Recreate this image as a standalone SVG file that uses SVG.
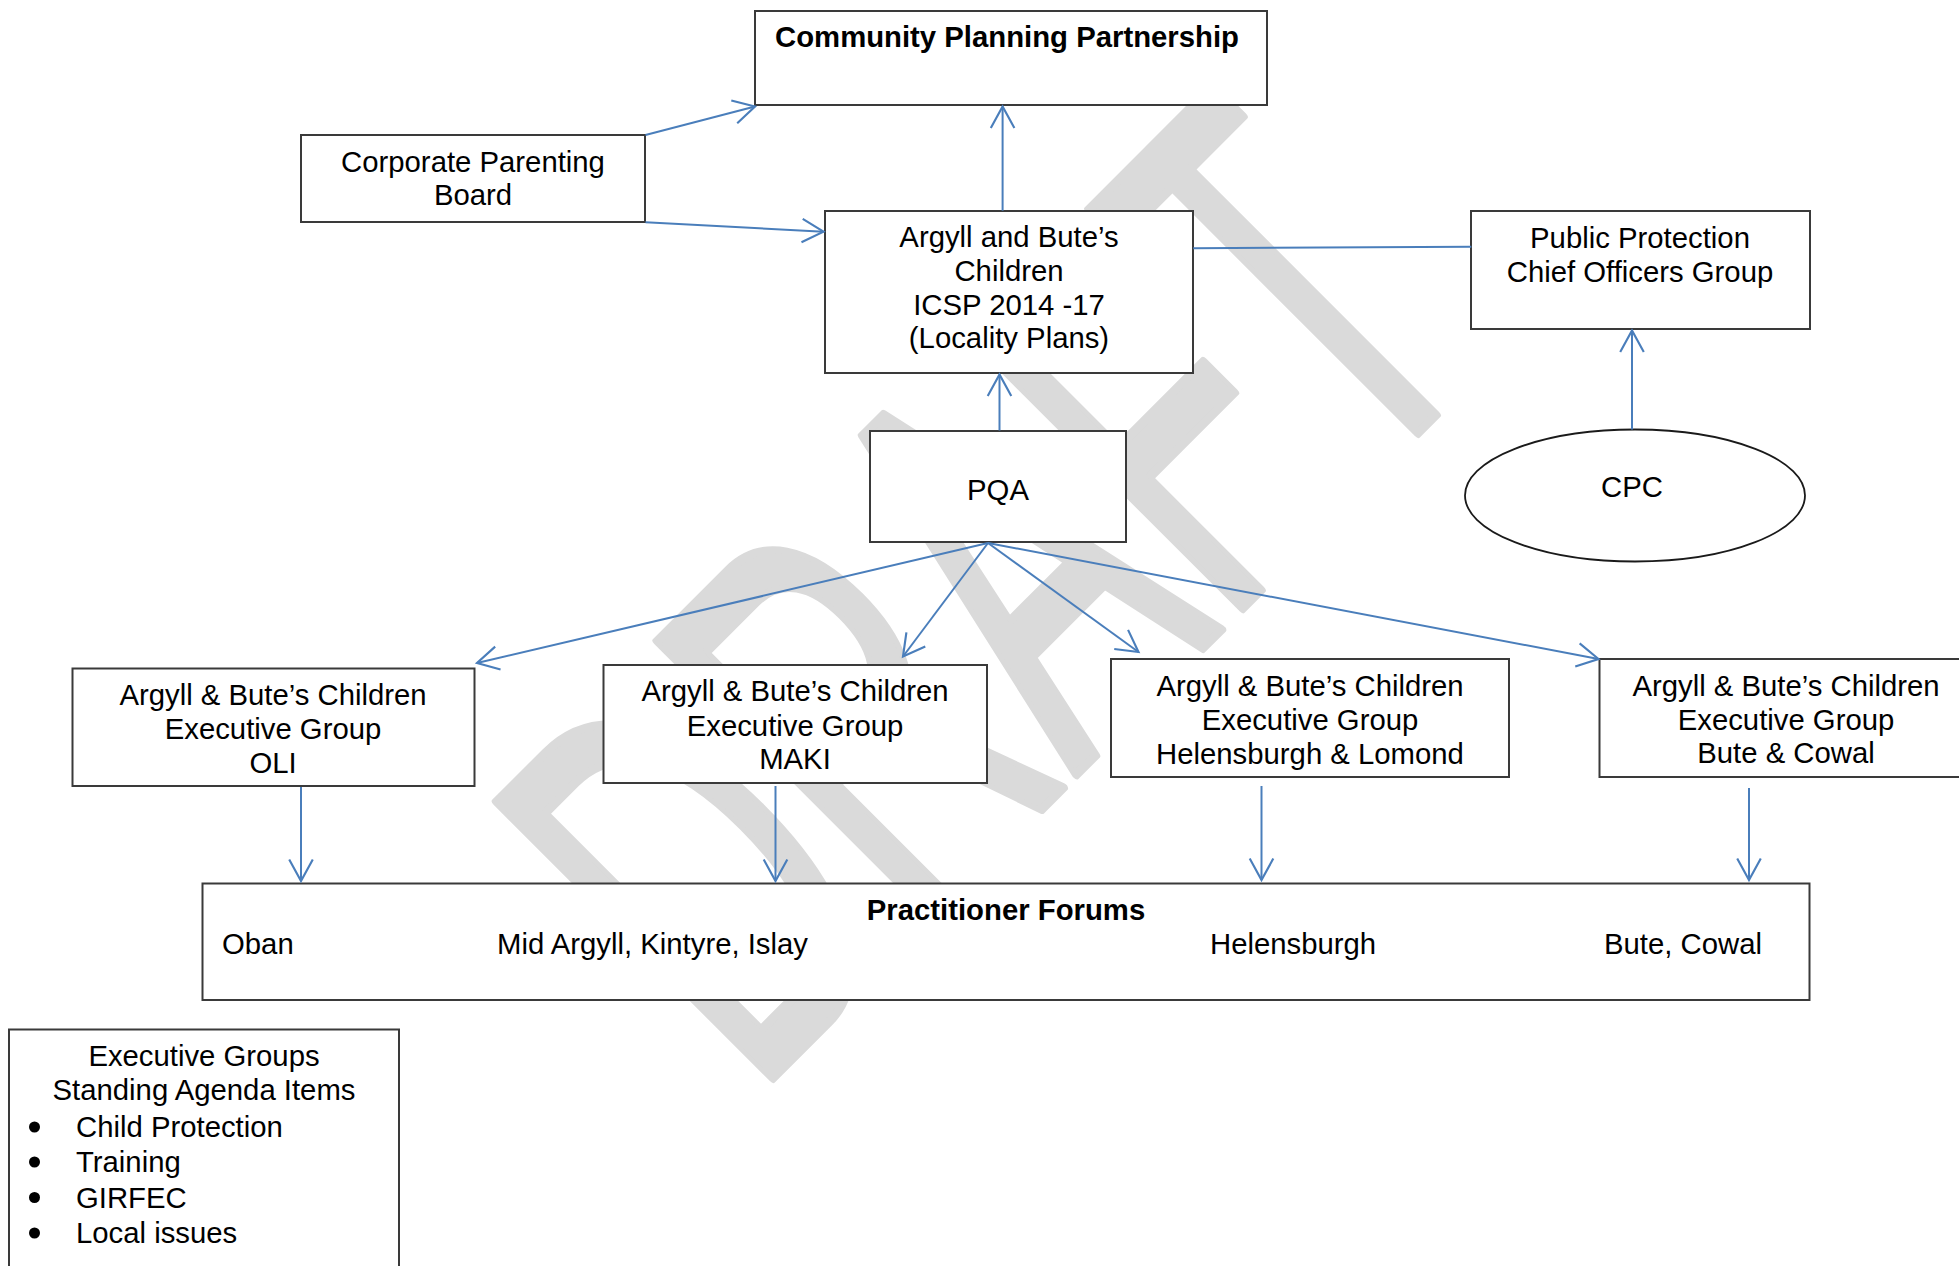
<svg xmlns="http://www.w3.org/2000/svg" width="1959" height="1266" viewBox="0 0 1959 1266">
<style>
.box{fill:#ffffff;stroke:#3a3a3a;stroke-width:2}
.ell{fill:#ffffff;stroke:#1a1a1a;stroke-width:1.8}
.t{font-family:"Liberation Sans",Arial,sans-serif;font-size:29.3px;fill:#000000}
.c{text-anchor:middle}
.b{font-weight:bold}
.conn line{stroke:#4a7ebb;stroke-width:2;fill:none}
.arr line{marker-end:url(#ah)}
.wm{font-family:"Liberation Sans",Arial,sans-serif;font-size:568px;fill:#dadada;stroke:#dadada;stroke-width:9;stroke-linejoin:round}
</style>
<defs>
<marker id="ah" markerUnits="userSpaceOnUse" markerWidth="30" markerHeight="30" viewBox="-24 -14 28 28" refX="0" refY="0" orient="auto">
<path d="M -20 -11 L 0 0 L -20 11" fill="none" stroke="#4a7ebb" stroke-width="2"/>
</marker>
</defs>
<rect width="1959" height="1266" fill="#ffffff"/>
<g id="watermark">
<text class="wm" transform="translate(753.4,1097.6) rotate(-45) scale(0.554,1)" x="0" y="0">DRAFT</text>
</g>
<g id="cpp">
<rect class="box" x="755" y="11" width="512" height="94"/>
<text class="t b c" x="1007" y="47">Community Planning Partnership</text>
</g>
<g id="corporate">
<rect class="box" x="301" y="135" width="344" height="87"/>
<text class="t c" x="473" y="172">Corporate Parenting</text>
<text class="t c" x="473" y="205">Board</text>
</g>
<g id="icsp">
<rect class="box" x="825" y="211" width="368" height="162"/>
<text class="t c" x="1009" y="247">Argyll and Bute’s</text>
<text class="t c" x="1009" y="281">Children</text>
<text class="t c" x="1009" y="315">ICSP 2014 -17</text>
<text class="t c" x="1009" y="348">(Locality Plans)</text>
</g>
<g id="ppcog">
<rect class="box" x="1471" y="211" width="339" height="118"/>
<text class="t c" x="1640" y="248">Public Protection</text>
<text class="t c" x="1640" y="282">Chief Officers Group</text>
</g>
<g id="cpc">
<ellipse class="ell" cx="1635" cy="495.5" rx="170" ry="66"/>
<text class="t c" x="1632" y="497">CPC</text>
</g>
<g id="pqa">
<rect class="box" x="870" y="431" width="256" height="111"/>
<text class="t c" x="998" y="500">PQA</text>
</g>
<g id="oli">
<rect class="box" x="72.5" y="668.5" width="402" height="117.5"/>
<text class="t c" x="273" y="705">Argyll &amp; Bute’s Children</text>
<text class="t c" x="273" y="739">Executive Group</text>
<text class="t c" x="273" y="773">OLI</text>
</g>
<g id="maki">
<rect class="box" x="603.5" y="665" width="383.5" height="118"/>
<text class="t c" x="795" y="701">Argyll &amp; Bute’s Children</text>
<text class="t c" x="795" y="735.5">Executive Group</text>
<text class="t c" x="795" y="769">MAKI</text>
</g>
<g id="helensburgh">
<rect class="box" x="1111" y="659" width="398" height="118"/>
<text class="t c" x="1310" y="696">Argyll &amp; Bute’s Children</text>
<text class="t c" x="1310" y="730">Executive Group</text>
<text class="t c" x="1310" y="763.5">Helensburgh &amp; Lomond</text>
</g>
<g id="butecowal">
<rect class="box" x="1599.5" y="659" width="380" height="118"/>
<text class="t c" x="1786" y="696">Argyll &amp; Bute’s Children</text>
<text class="t c" x="1786" y="729.5">Executive Group</text>
<text class="t c" x="1786" y="763">Bute &amp; Cowal</text>
</g>
<g id="forums">
<rect class="box" x="202.5" y="883.5" width="1607" height="116.5"/>
<text class="t b c" x="1006" y="920">Practitioner Forums</text>
<text class="t" x="222" y="954">Oban</text>
<text class="t" x="497" y="954">Mid Argyll, Kintyre, Islay</text>
<text class="t" x="1210" y="954">Helensburgh</text>
<text class="t" x="1604" y="954">Bute, Cowal</text>
</g>
<g id="agenda">
<rect class="box" x="9" y="1029.5" width="390" height="260"/>
<text class="t c" x="204" y="1066">Executive Groups</text>
<text class="t c" x="204" y="1100">Standing Agenda Items</text>
<circle cx="34.5" cy="1127" r="5.5" fill="#000"/>
<text class="t" x="76" y="1137">Child Protection</text>
<circle cx="34.5" cy="1162" r="5.5" fill="#000"/>
<text class="t" x="76" y="1172">Training</text>
<circle cx="34.5" cy="1197.5" r="5.5" fill="#000"/>
<text class="t" x="76" y="1207.5">GIRFEC</text>
<circle cx="34.5" cy="1233" r="5.5" fill="#000"/>
<text class="t" x="76" y="1243">Local issues</text>
</g>
<g id="connectors" class="conn">
<g class="arr">
<line x1="645.5" y1="135" x2="755" y2="106.5"/>
<line x1="645.5" y1="222.3" x2="823.5" y2="231.7"/>
<line x1="1002.6" y1="210.7" x2="1002.6" y2="106.5"/>
<line x1="999.5" y1="430.5" x2="999.5" y2="374.5"/>
<line x1="1632" y1="429.5" x2="1632" y2="330.5"/>
<line x1="988" y1="543" x2="477" y2="663"/>
<line x1="988" y1="543" x2="903" y2="656.5"/>
<line x1="988" y1="543" x2="1138.5" y2="652"/>
<line x1="988" y1="543" x2="1598.5" y2="659"/>
<line x1="301" y1="787" x2="301" y2="881"/>
<line x1="775.5" y1="786" x2="775.5" y2="881"/>
<line x1="1261.5" y1="786" x2="1261.5" y2="880"/>
<line x1="1749" y1="788" x2="1749" y2="880"/>
</g>
<line x1="1193.3" y1="248.3" x2="1471.3" y2="246.7"/>
</g>
</svg>
